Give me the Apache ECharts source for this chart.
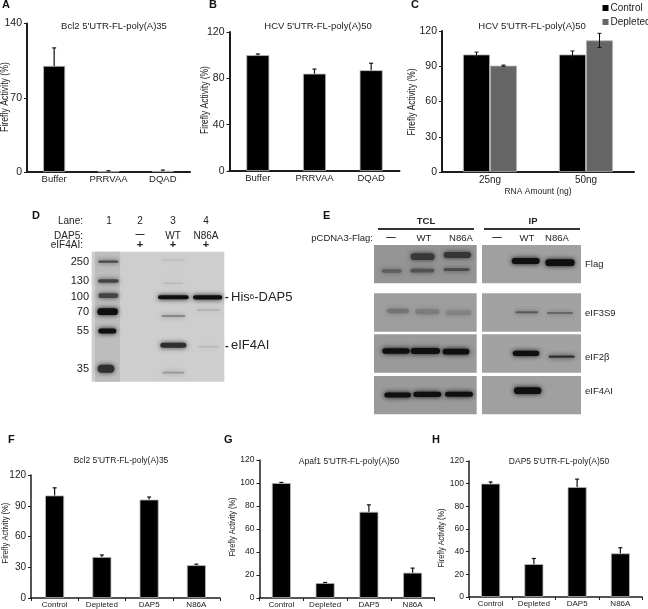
<!DOCTYPE html>
<html><head><meta charset="utf-8">
<style>html,body{margin:0;padding:0;background:#fff}#c{width:648px;height:609px;filter:blur(0.45px)}</style>
<script src="https://cdn.jsdelivr.net/npm/echarts@6/dist/echarts.min.js"></script>
</head><body><div id="c"></div>
<script>
// ---- bar panels ----
const catsAB = ['Buffer','PRRVAA','DQAD'];
const catsC = ['25ng','50ng'];
const catsFGH = ['Control','Depleted','DAP5','N86A'];
const valuesA = [100,0.6,1];      const errA = [17,0.6,0.8];
const valuesB = [100,84,87];      const errB = [1,4,6];
const controlC = [100,100];       const errControlC = [2,3];
const depletedC = [90.5,112];     const errDepletedC = [0.5,6];
const valuesF = [100,40,96,32];   const errF = [7.5,2,2.5,1];
const valuesG = [100,13,75,22];   const errG = [0.5,0.5,6,4];
const valuesH = [100,29,97,38.5]; const errH = [1.5,5,7,5];
// ---- gel D, panel units (x, y, w, h, darkness) ----
const gelPanel = [[275,140,673,530,0.09],[285,140,360,530,0.17]];
const gelBands = [
 [325,170,60,7,.72],[325,228,62,10,.75],[325,272,60,14,.75],[323,320,62,20,1],[322,378,54,15,1],[318,491,50,24,.85],
 [520,277,92,12,1],[520,333,72,5,.5],[520,421,78,15,.85],[520,503,66,5,.35],[520,235,60,3,.22],[520,165,70,3,.2],
 [623,277,88,13,1],[625,315,70,3,.3],[625,425,60,4,.2]
];
// ---- blot E, panel units ----
const blotPanels = [
 [162,120,470,235,.36],[486,120,783,235,.31],
 [162,265,470,380,.32],[486,265,783,380,.3],
 [162,388,470,503,.34],[486,388,783,503,.3],
 [162,513,470,628,.34],[486,513,783,628,.31]
];
const blotBands = [
 [308,155,72,20,.8],[412,150,82,18,.82],[215,198,60,10,.62],[307,197,72,11,.68],[410,194,78,8,.72],
 [617,168,84,18,1],[720,173,88,20,1],
 [234,318,66,14,.52],[322,320,72,15,.48],[416,323,76,15,.45],[620,322,68,6,.65],[720,324,78,5,.65],
 [228,438,82,16,1],[316,438,88,18,1],[408,440,80,17,1],[618,445,80,16,1],[725,455,78,7,.85],
 [233,570,80,15,1],[322,568,84,16,1],[417,568,84,15,1],[623,557,82,20,1]
];

const axisC = '#1c1c1c', txt = '#222', font = '"Liberation Sans", Arial, sans-serif';
const grids = [
 {left:27,top:23.5,width:163,height:148.5},
 {left:229.5,top:32,width:170,height:139},
 {left:442,top:31,width:192,height:141},
 {left:31,top:475,width:189,height:123},
 {left:259.5,top:460,width:175,height:138},
 {left:469,top:461,width:173,height:136},
 {left:0,top:205,width:330,height:210},
 {left:320,top:205,width:328,height:215}
];
function xA(i,data,size,margin,extra){return Object.assign({type:'category',gridIndex:i,data,
 axisLine:{lineStyle:{color:axisC,width:i<3?2:1.5}},
 axisTick:{show:i>=3,length:3,alignWithLabel:false,lineStyle:{color:axisC}},
 axisLabel:{color:txt,fontSize:size,fontFamily:font,margin,interval:0}},extra||{});}
function yA(i,max,interval,lab){return {type:'value',gridIndex:i,min:0,max,interval,
 axisLine:{show:true,lineStyle:{color:axisC,width:i<3?2:1.5}},
 axisTick:{show:true,length:3,lineStyle:{color:axisC}},splitLine:{show:false},
 axisLabel:{color:txt,fontSize:lab,fontFamily:font,margin:5}};}
function bar(i,name,vals,w,color){return {type:'bar',name,xAxisIndex:i,yAxisIndex:i,data:vals,barWidth:w,barGap:0,
 itemStyle:{color,borderColor:'#b8b8b8',borderWidth:0.8},silent:true};}
function err(i,vals,errs,off,both,lw){return {type:'custom',xAxisIndex:i,yAxisIndex:i,z:5,silent:true,
 data:vals.map((v,k)=>[k,v,v+errs[k],both?v-errs[k]:v]),encode:{x:0,y:[1,2]},
 renderItem(p,api){
  const a=api.coord([api.value(0),api.value(2)]),b=api.coord([api.value(0),api.value(3)]);
  const x=a[0]+off,st={stroke:'#111',lineWidth:lw};
  const ch=[{type:'line',shape:{x1:x,y1:a[1],x2:x,y2:b[1]},style:st},
            {type:'line',shape:{x1:x-2,y1:a[1],x2:x+2,y2:a[1]},style:st}];
  if(both)ch.push({type:'line',shape:{x1:x-2,y1:b[1],x2:x+2,y2:b[1]},style:st});
  return {type:'group',children:ch};
 }};}
function hiddenX(i,max){return {type:'value',gridIndex:i,min:0,max,show:false};}
function hiddenY(i,max){return {type:'value',gridIndex:i,min:0,max,inverse:true,show:false};}
function shade(d){const g=Math.round(225-d*210);return 'rgb('+g+','+g+','+g+')';}
function panels(i,data){return {type:'custom',xAxisIndex:i,yAxisIndex:i,silent:true,z:1,clip:false,data,
 encode:{x:[0,2],y:[1,3]},
 renderItem(p,api){
  const a=api.coord([api.value(0),api.value(1)]),b=api.coord([api.value(2),api.value(3)]);
  return {type:'rect',shape:{x:a[0],y:a[1],width:b[0]-a[0],height:b[1]-a[1]},style:{fill:shade(api.value(4))}};
 }};}
function bands(i,data){return {type:'custom',xAxisIndex:i,yAxisIndex:i,silent:true,z:2,clip:false,data,
 encode:{x:0,y:1},
 renderItem(p,api){
  const c=api.coord([api.value(0),api.value(1)]),s=api.size([api.value(2),api.value(3)]);
  const f=shade(api.value(4));
  return {type:'rect',shape:{x:c[0]-s[0]/2,y:c[1]-s[1]/2,width:s[0],height:s[1],r:Math.min(s[1]/2,4)},
   style:{fill:f,shadowBlur:5,shadowColor:f}};
 }};}

const L=[];
function t(x,y,text,o){o=o||{};L.push({type:'text',z:20,silent:true,style:{x,y,text,fill:o.c||txt,
 font:(o.b?'bold ':'')+(o.s||10)+'px '+font,align:o.a||'left',verticalAlign:'middle'}});}
// rotated y-axis title, squeezed along its length like the reference
function yName(x,y,len,size){L.push({type:'text',z:20,silent:true,x,y,rotation:Math.PI/2,scaleX:len/(7.9*size),
 style:{x:0,y:0,text:'Firefly Activity (%)',fill:txt,font:size+'px '+font,align:'center',verticalAlign:'middle'}});}
[['A',2,5],['B',209,5],['C',411,5],['D',32,216],['E',323,216],['F',8,440],['G',224,440],['H',432,440]]
 .forEach(a=>t(a[1],a[2],a[0],{b:1,s:11,c:'#111'}));
yName(5,97,69,10); yName(205,100,67,10); yName(412,102,66,10.5);
yName(5,533,60,9.5); yName(233,527,58,9); yName(442,538,58,9);
// gel labels
t(83,221,'Lane:',{a:'right',s:10});
[['1',109],['2',140],['3',173],['4',206]].forEach(a=>t(a[1],221,a[0],{a:'center',s:10}));
t(83,236,'DAP5:',{a:'right',s:10}); t(83,245,'eIF4AI:',{a:'right',s:10});
t(140,235,'\u2014',{a:'center',s:9,b:1}); t(173,236,'WT',{a:'center',s:10}); t(206,236,'N86A',{a:'center',s:10});
[140,173,206].forEach(x=>t(x,245,'+',{a:'center',s:11,b:1}));
[['250',262],['130',281],['100',297],['70',312],['55',331],['35',369]].forEach(a=>t(89,a[1],a[0],{a:'right',s:11}));
t(225,297,'-',{s:11,b:1}); t(225,345.5,'-',{s:11,b:1});
L.push({type:'text',z:20,silent:true,style:{x:231,y:297,text:'His{a|6}-DAP5',fill:txt,font:'13px '+font,verticalAlign:'middle',
 rich:{a:{fontSize:8,fontFamily:font,fill:txt}}}});
t(231,345.5,'eIF4AI',{s:13});
// blot labels
t(426,221,'TCL',{a:'center',b:1,s:9.5}); t(533,221,'IP',{a:'center',b:1,s:9.5});
[[378,474],[484,580]].forEach(a=>L.push({type:'line',z:20,silent:true,shape:{x1:a[0],y1:229,x2:a[1],y2:229},style:{stroke:'#333',lineWidth:1.8}}));
t(373,238.5,'pCDNA3-Flag:',{a:'right',s:9.5});
[[391,'\u2014',1],[424,'WT'],[461,'N86A'],[497,'\u2014',1],[527,'WT'],[557,'N86A']].forEach(a=>t(a[0],a[2]?237:238.5,a[1],{a:'center',s:9.5,b:a[2]}));
[['Flag',585,264],['eIF3S9',585,313],['eIF2\u03b2',585,357],['eIF4AI',585,391]].forEach(a=>t(a[1],a[2],a[0],{s:9.5}));

function ttl(text,x,y,s){return {text,left:x,top:y,textAlign:'center',textVerticalAlign:'middle',textStyle:{fontSize:s,fontWeight:'normal',color:txt,fontFamily:font}};}
const option={animation:false,backgroundColor:'#fff',
 textStyle:{fontFamily:font},
 grid:grids,
 title:[
  ttl("Bcl2 5'UTR-FL-poly(A)35",109,21,9.5),
  ttl("HCV 5'UTR-FL-poly(A)50",313,21,9.5),
  ttl("HCV 5'UTR-FL-poly(A)50",527,21,9.5),
  ttl("Bcl2 5'UTR-FL-poly(A)35",116,456,8.5),
  ttl("Apaf1 5'UTR-FL-poly(A)50",344,456.5,8.5),
  ttl("DAP5 5'UTR-FL-poly(A)50",554,456.5,8.5)
 ],
 legend:{data:[{name:'Control',icon:'rect'},{name:'Depleted',icon:'rect'}],orient:'vertical',left:602.5,top:3,itemWidth:6,itemHeight:6,itemGap:4,
  itemStyle:{borderWidth:0},
  textStyle:{color:txt,fontSize:10,fontFamily:font,padding:[0,0,0,-3]},padding:0,selectedMode:false},
 xAxis:[xA(0,catsAB,9.5,2),xA(1,catsAB,9.5,2),
  xA(2,catsC,10,3,{name:'RNA Amount (ng)',nameLocation:'middle',nameGap:15,nameTextStyle:{color:txt,fontSize:8.5,fontFamily:font}}),
  xA(3,catsFGH,8,3),xA(4,catsFGH,8,3),xA(5,catsFGH,8,3),hiddenX(6,990),hiddenX(7,984)],
 yAxis:[yA(0,140,70,10.5),yA(1,120,40,10.5),yA(2,120,30,10.5),
  yA(3,120,30,10),yA(4,120,20,8.5),yA(5,120,20,8.5),hiddenY(6,630),hiddenY(7,645)],
 series:[
  bar(0,'A',valuesA,22,'#000'),err(0,valuesA,errA,0,false,1.2),
  bar(1,'B',valuesB,23,'#000'),err(1,valuesB,errB,0,false,1.2),
  bar(2,'Control',controlC,27,'#000'),bar(2,'Depleted',depletedC,27,'#666'),
  err(2,controlC,errControlC,-13.5,true,1),err(2,depletedC,errDepletedC,13.5,true,1),
  bar(3,'F',valuesF,19,'#000'),err(3,valuesF,errF,0,false,1.2),
  bar(4,'G',valuesG,19,'#000'),err(4,valuesG,errG,0,false,1.2),
  bar(5,'H',valuesH,19,'#000'),err(5,valuesH,errH,0,false,1.2),
  panels(6,gelPanel),bands(6,gelBands),
  panels(7,blotPanels),bands(7,blotBands)
 ],
 graphic:{elements:L}
};
echarts.init(document.getElementById('c'),null,{renderer:'canvas'}).setOption(option);
</script></body></html>
